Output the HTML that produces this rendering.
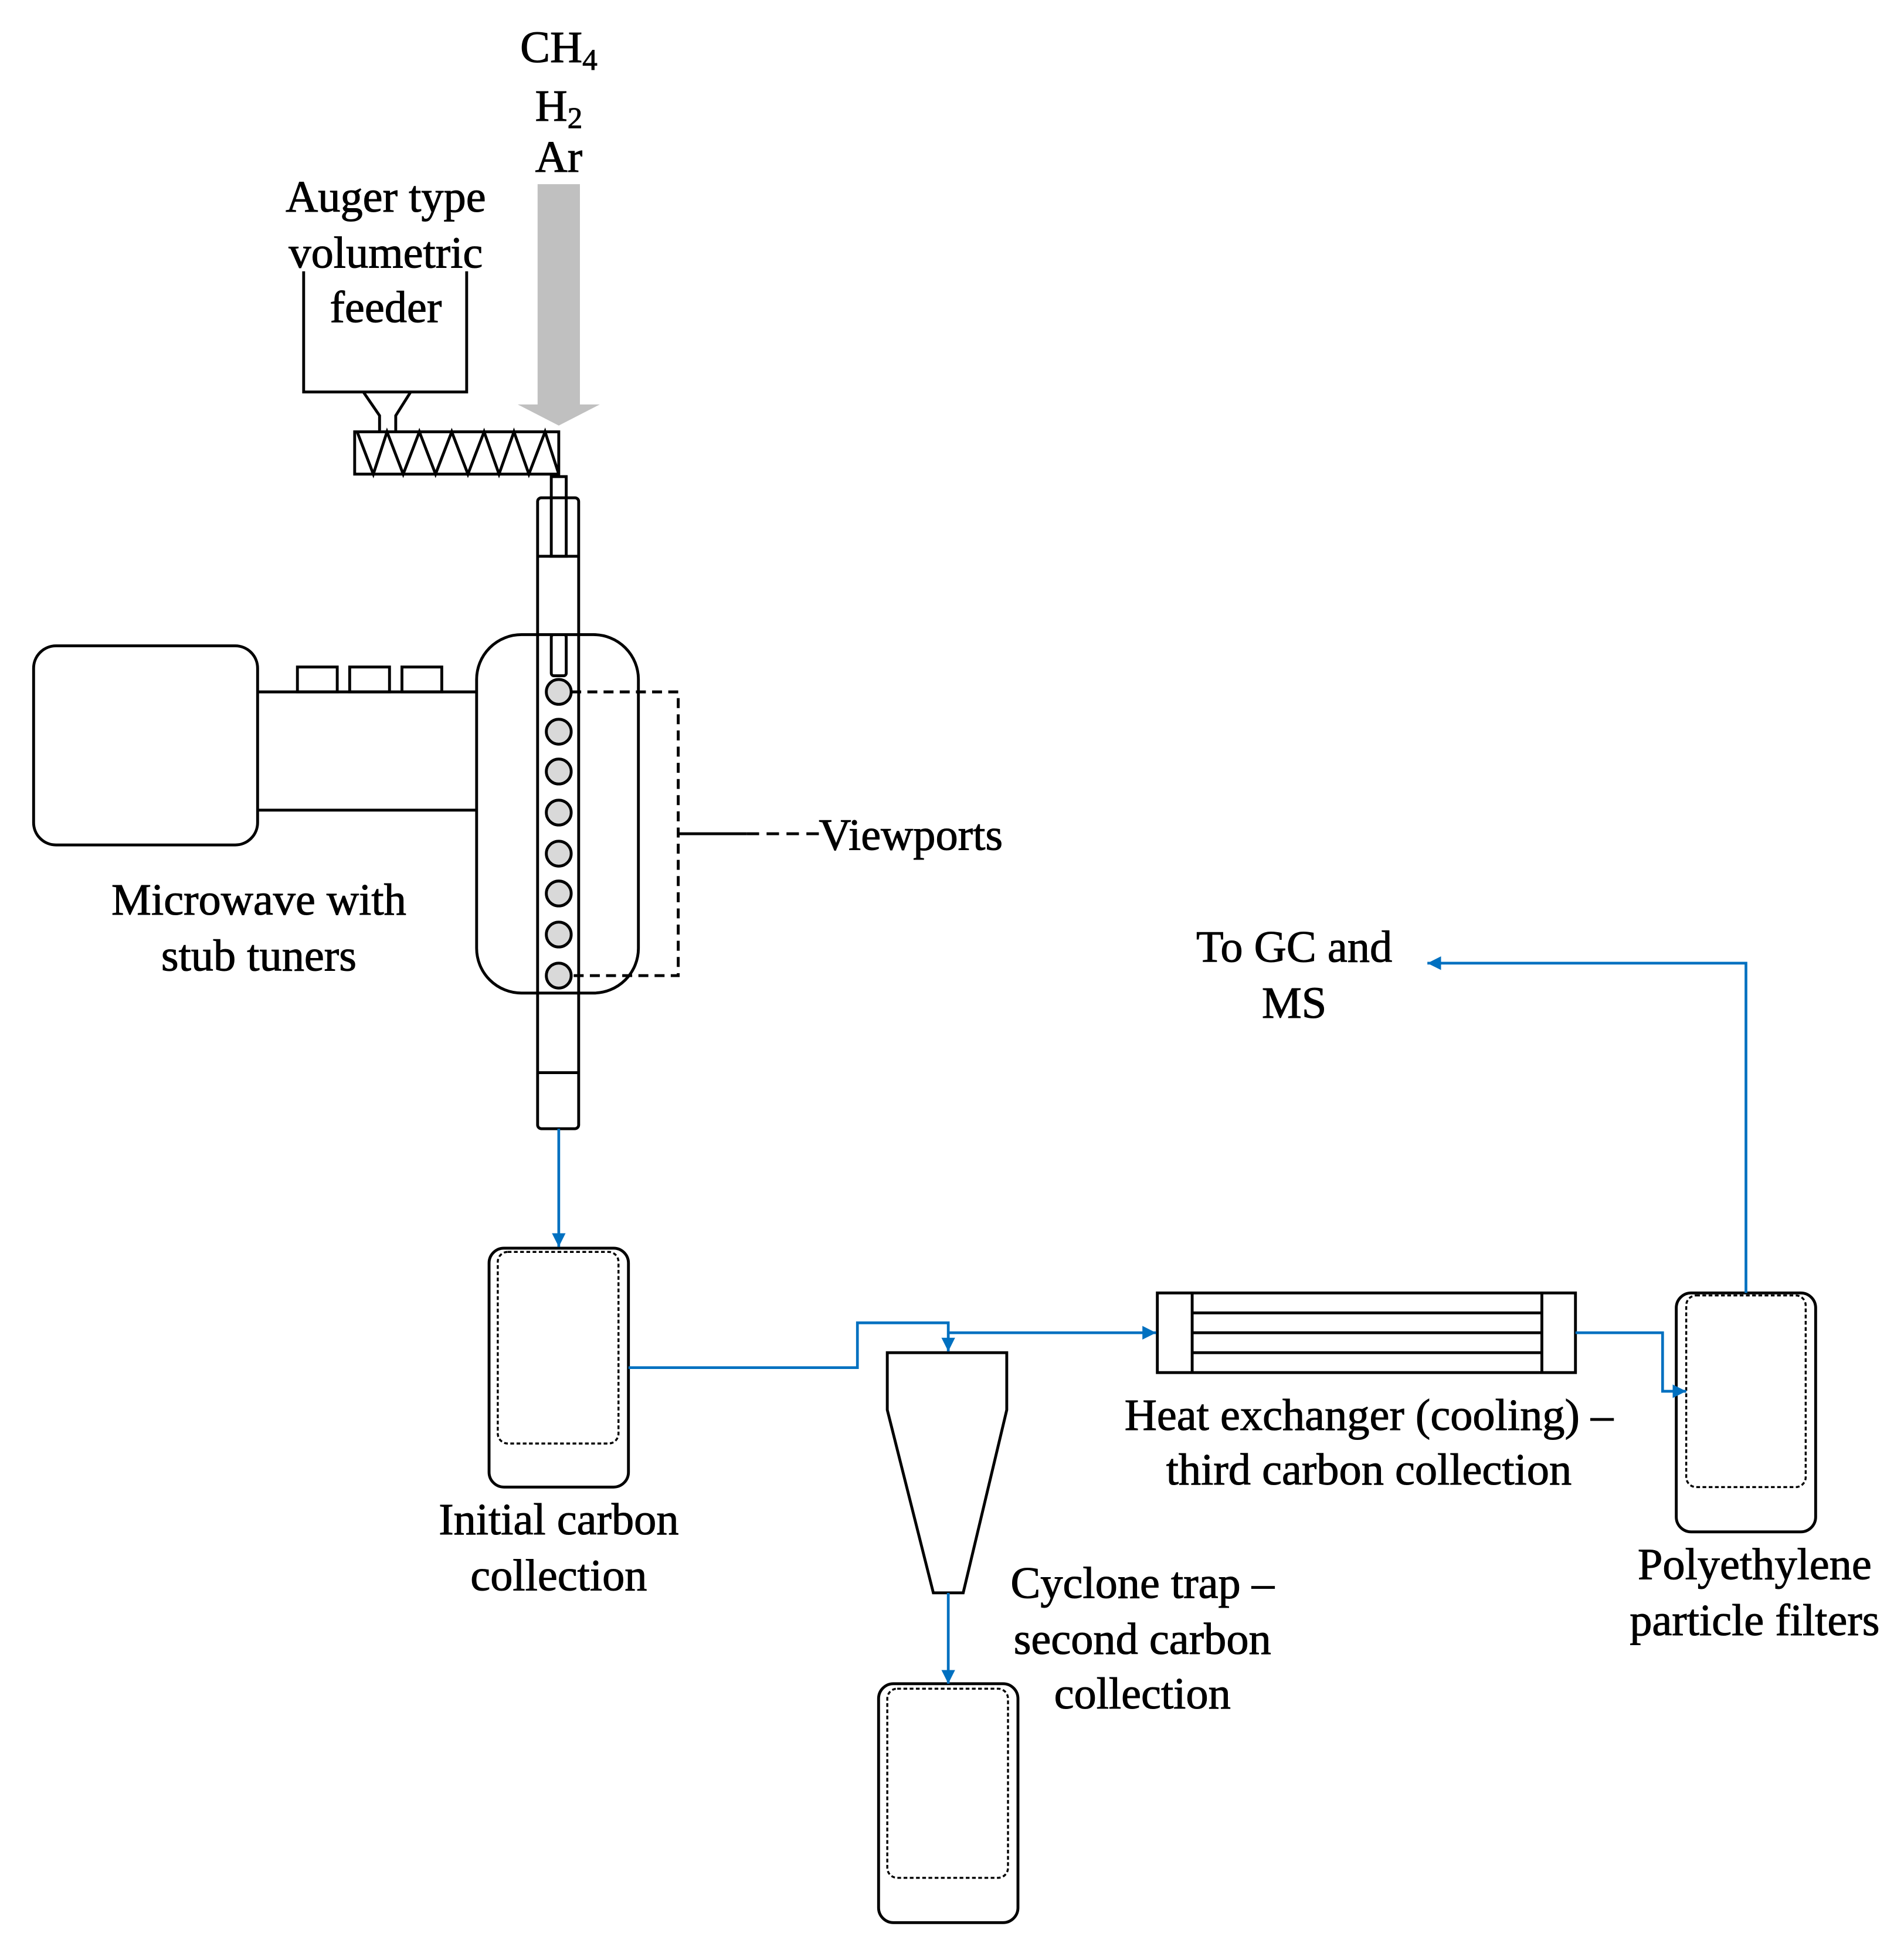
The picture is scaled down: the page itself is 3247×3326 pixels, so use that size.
<!DOCTYPE html>
<html><head><meta charset="utf-8"><style>
html,body{margin:0;padding:0;background:#fff;}
svg{display:block;}
text{font-family:"Liberation Serif",serif;font-size:36px;fill:#000;stroke:#000;stroke-width:0.5;}
</style></head><body>
<svg width="3247" height="3326" viewBox="0 0 1530 1567" preserveAspectRatio="none" xmlns="http://www.w3.org/2000/svg">
<defs>
<marker id="a" viewBox="0 0 10 10" refX="10" refY="5" markerWidth="5" markerHeight="5" orient="auto"><path d="M0,0 L10,5 L0,10 z" fill="#0070c0"/></marker>
</defs>
<g fill="none" stroke="#000" stroke-width="2.3">
<path d="M432,148 H466 V325 H482 L449,342 L416,325 H432 Z" fill="#c0c0c0" stroke="none"/>
<path d="M244,218 V315 H375 V218"/>
<path d="M292,315 L305,334 V347 M330,315 L318,334 V347"/>
<rect x="285" y="347" width="164" height="34"/>
<path d="M287,347 L300,381 L311,347 L324,381 L337,347 L350,381 L363,347 L376,381 L389,347 L401,381 L413,347 L425,381 L438,347 L449,381"/>
<rect x="443" y="383" width="12" height="64"/>
<rect x="432" y="400" width="33" height="507" rx="3"/>
<path d="M432,447 H465 M432,862 H465"/>
<rect x="27" y="519" width="180" height="160" rx="18"/>
<path d="M207,556 H383 M207,651 H383"/>
<rect x="239" y="536" width="32" height="20"/>
<rect x="281" y="536" width="32" height="20"/>
<rect x="323" y="536" width="32" height="20"/>
<rect x="383" y="510" width="130" height="288" rx="36"/>
<rect x="443" y="510" width="12" height="33" rx="2"/>
<g fill="#d9d9d9">
<circle cx="449" cy="556" r="10"/><circle cx="449" cy="588" r="10"/><circle cx="449" cy="620" r="10"/><circle cx="449" cy="653" r="10"/>
<circle cx="449" cy="686" r="10"/><circle cx="449" cy="718" r="10"/><circle cx="449" cy="751" r="10"/><circle cx="449" cy="784" r="10"/>
</g>
<path d="M459,556 H545 V784 H459" stroke-dasharray="8,5"/>
<path d="M545,670 H600"/>
<path d="M600,670 H660" stroke-dasharray="10,6"/>
<rect x="393" y="1003" width="112" height="192" rx="12"/>
<rect x="400" y="1006" width="97" height="154" rx="8" stroke-dasharray="3,2" stroke-width="1.6"/>
<rect x="706" y="1353" width="112" height="192" rx="12"/>
<rect x="713" y="1357" width="97" height="152" rx="8" stroke-dasharray="3,2" stroke-width="1.6"/>
<rect x="1347" y="1039" width="112" height="192" rx="12"/>
<rect x="1355" y="1041" width="96" height="154" rx="8" stroke-dasharray="3,2" stroke-width="1.6"/>
<path d="M713,1087 H809 V1133 L774,1280 H750 L713,1133 Z"/>
<rect x="930" y="1039" width="336" height="64"/>
<path d="M958,1039 V1103 M1239,1039 V1103 M958,1055 H1239 M958,1071 H1239 M958,1087 H1239"/>
</g>
<g fill="none" stroke="#0070c0" stroke-width="2.2">
<path d="M449,907 V1002" marker-end="url(#a)"/>
<path d="M505,1099 H689 V1063 H762 V1086" marker-end="url(#a)"/>
<path d="M762,1071 H929" marker-end="url(#a)"/>
<path d="M762,1280 V1353" marker-end="url(#a)"/>
<path d="M1266,1071 H1336 V1118 H1355" marker-end="url(#a)"/>
<path d="M1403,1039 V774 H1147" marker-end="url(#a)"/>
</g>
<g text-anchor="middle">
<text x="449" y="50">CH<tspan font-size="24" dy="6">4</tspan></text>
<text x="449" y="97">H<tspan font-size="24" dy="6">2</tspan></text>
<text x="449" y="138">Ar</text>
<text x="310" y="170">Auger type</text>
<text x="310" y="215">volumetric</text>
<text x="310" y="259">feeder</text>
<text x="208" y="735">Microwave with</text>
<text x="208" y="780">stub tuners</text>
<text x="449" y="1233">Initial carbon</text>
<text x="449" y="1278">collection</text>
<text x="918" y="1284">Cyclone trap –</text>
<text x="918" y="1329">second carbon</text>
<text x="918" y="1373">collection</text>
<text x="1100" y="1149">Heat exchanger (cooling) –</text>
<text x="1100" y="1193">third carbon collection</text>
<text x="1040" y="773">To GC and</text>
<text x="1040" y="818">MS</text>
<text x="1410" y="1269">Polyethylene</text>
<text x="1410" y="1314">particle filters</text>
</g>
<text x="658" y="683">Viewports</text>
</svg>
</body></html>
